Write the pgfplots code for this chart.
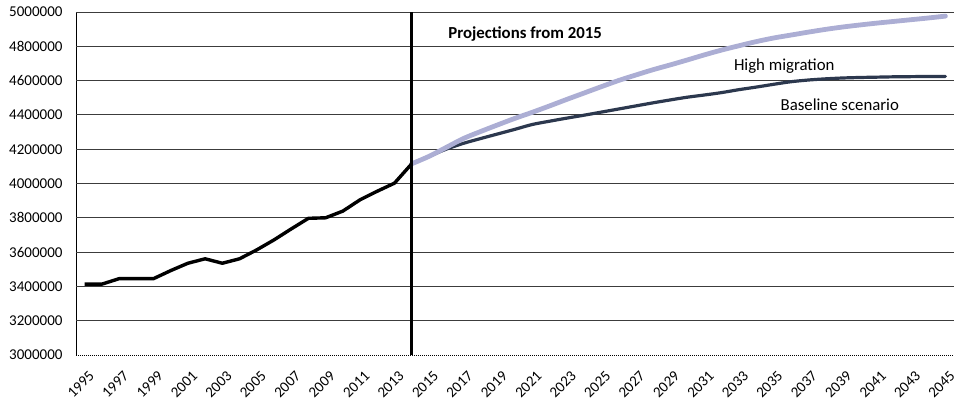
\documentclass[border=0pt]{standalone}
\usepackage{fontspec}
\setmainfont{Carlito}
\usepackage{pgfplots}
\pgfplotsset{compat=1.18}
\definecolor{basec}{RGB}{44,56,78}
\definecolor{highc}{RGB}{172,174,212}
\definecolor{gridc}{RGB}{60,60,60}

\pgfplotstableread{
year value
1995 3413000
1996 3413000
1997 3445000
1998 3445000
1999 3445000
2000 3492000
2001 3535000
2002 3561000
2003 3535000
2004 3561000
2005 3613000
2006 3671000
2007 3735000
2008 3797000
2009 3800000
2010 3839000
2011 3905000
2012 3955000
2013 4002000
2014 4115000
}\histdata

\pgfplotstableread{
year value
2014 4115000
2015 4158000
2016 4200000
2017 4234000
2018 4262000
2019 4289000
2020 4316000
2021 4344000
2022 4363000
2023 4381000
2024 4398000
2025 4416000
2026 4434000
2027 4452000
2028 4470000
2029 4487000
2030 4503000
2031 4516000
2032 4530000
2033 4547000
2034 4562000
2035 4578000
2036 4593000
2037 4603000
2038 4610000
2039 4615000
2040 4618000
2041 4620000
2042 4622000
2043 4623000
2044 4624000
2045 4624000
}\basedata

\pgfplotstableread{
year value
2014 4115000
2015 4158000
2016 4210000
2017 4262000
2018 4303000
2019 4342000
2020 4380000
2021 4415000
2022 4452000
2023 4490000
2024 4527000
2025 4564000
2026 4600000
2027 4632000
2028 4663000
2029 4691000
2030 4720000
2031 4750000
2032 4778000
2033 4803000
2034 4827000
2035 4848000
2036 4865000
2037 4882000
2038 4898000
2039 4912000
2040 4924000
2041 4935000
2042 4945000
2043 4955000
2044 4965000
2045 4976000
}\highdata

\begin{document}
\begin{tikzpicture}
\begin{axis}[
  scale only axis,
  width=878pt, height=343pt,
  xmin=1994.5, xmax=2045.5,
  ymin=3000000, ymax=5000000,
  axis x line*=bottom, axis y line*=left,
  axis line style={-, black, line width=0.8pt},
  x axis line style={dash pattern=on 1pt off 1pt},
  xtick={1995,1997,1999,2001,2003,2005,2007,2009,2011,2013,2015,2017,2019,2021,2023,2025,2027,2029,2031,2033,2035,2037,2039,2041,2043,2045},
  ytick={3000000,3200000,3400000,3600000,3800000,4000000,4200000,4400000,4600000,4800000,5000000},
  extra y ticks={3200000,3400000,3600000,3800000,4000000,4200000,4400000,4600000,4800000,5000000},
  extra y tick labels={},
  extra y tick style={grid=major, major grid style={gridc, line width=0.9pt}},
  scaled y ticks=false,
  scaled x ticks=false,
  major tick length=0pt,
  /pgf/number format/fixed,
  /pgf/number format/1000 sep={},
  /pgf/number format/assume math mode=true,
  yticklabel style={font=\fontsize{15}{18}\selectfont, text=black, xshift=-10pt},
  xticklabel style={font=\fontsize{15}{18}\selectfont, text=black, rotate=45, anchor=east, inner sep=0pt, yshift=-18pt, xshift=-8pt},
  clip=false,
]
\coordinate (sw) at (rel axis cs:0,0);
\coordinate (ne) at (rel axis cs:1,1);
\addplot[basec, line width=3.2pt, smooth, line join=round, line cap=round] table[x=year,y=value] {\basedata};
\addplot[highc, line width=4.8pt, smooth, line join=round, line cap=round] table[x=year,y=value] {\highdata};
\addplot[black, line width=3.4pt, line join=round] table[x=year,y=value] {\histdata};
\addplot[black, line width=3pt] coordinates {(2014,3000000) (2014,5000000)};
\node[anchor=base west, inner sep=0pt, font=\fontsize{16.8}{20}\selectfont\bfseries] at (axis cs:2016.12,4845000) {Projections from 2015};
\node[anchor=base west, inner sep=0pt, font=\fontsize{16.8}{20}\selectfont] at (axis cs:2032.71,4656000) {High migration};
\node[anchor=base west, inner sep=0pt, font=\fontsize{16.8}{20}\selectfont] at (axis cs:2035.42,4423000) {Baseline scenario};
\end{axis}
\pgfresetboundingbox
\path[use as bounding box] ([xshift=-76pt,yshift=-45pt]sw) rectangle ([xshift=5pt,yshift=12pt]ne);
\end{tikzpicture}
\end{document}
